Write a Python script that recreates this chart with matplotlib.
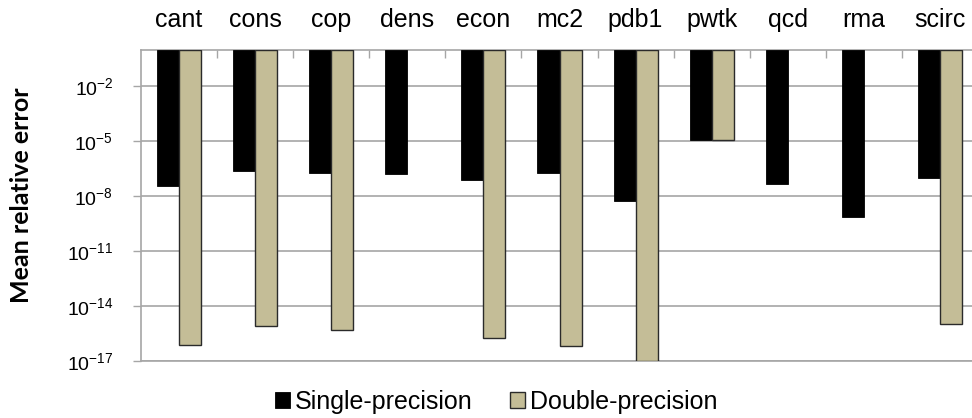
import numpy as np
import matplotlib
matplotlib.use("Agg")
import matplotlib.pyplot as plt
from matplotlib.patches import Patch
from matplotlib.ticker import FixedLocator, FixedFormatter
import matplotlib.transforms as mtrans

plt.rcParams['font.family'] = ['Liberation Sans', 'DejaVu Sans']
plt.rcParams['mathtext.fontset'] = 'custom'
plt.rcParams['mathtext.rm'] = 'Liberation Sans'
plt.rcParams['mathtext.it'] = 'Liberation Sans:italic'
plt.rcParams['mathtext.bf'] = 'Liberation Sans:bold'

categories = ["cant", "cons", "cop", "dens", "econ", "mc2", "pdb1", "pwtk", "qcd", "rma", "scirc"]
# log10 of mean relative error (NaN = no bar)
single_log = [-7.42, -6.62, -6.74, -6.78, -7.09, -6.71, -8.25, -4.91, -7.34, -9.11, -7.02]
double_log = [-16.15, -15.11, -15.33, np.nan, -15.75, -16.20, -17.0, -4.94, np.nan, np.nan, -14.98]
ytick_exps = [-17, -14, -11, -8, -5, -2]
series_names = ["Single-precision", "Double-precision"]

single = np.power(10.0, np.array(single_log))
double = np.power(10.0, np.array(double_log))
TOP = 1.0

W, H = 972, 418
fig = plt.figure(figsize=(W / 100, H / 100), dpi=100)
ax_left, ax_right, ax_top, ax_bot = 141, 978, 49.7, 361
ax = fig.add_axes([ax_left / W, 1 - ax_bot / H, (ax_right - ax_left) / W, (ax_bot - ax_top) / H])

x = np.arange(len(categories))
bw = 0.29
c_single = "#000000"
c_double = "#C4BD97"
ax.bar(x - bw / 2, TOP - single, bottom=single, width=bw, color=c_single,
       edgecolor="#000000", linewidth=0.6, zorder=3)
ax.bar(x + bw / 2, TOP - double, bottom=double, width=bw, color=c_double,
       edgecolor="#2a2a2a", linewidth=1.0, zorder=3)

ax.set_yscale("log")
ax.set_ylim(1e-17, TOP)
ax.set_xlim(-0.5, len(categories) - 0.5)

ax.yaxis.set_major_locator(FixedLocator([10.0 ** e for e in ytick_exps]))
ax.yaxis.set_major_formatter(FixedFormatter([r"$\mathregular{10^{%d}}$" % e for e in ytick_exps]))
ax.yaxis.set_minor_locator(FixedLocator([]))
ax.tick_params(axis="y", which="major", length=6, width=1, color="#A6A6A6",
               labelsize=14, pad=14, direction="out")
ax.grid(axis="y", color="#A6A6A6", linewidth=1.2, zorder=0)

ax.xaxis.tick_top()
ax.set_xticks(np.arange(len(categories) - 1) + 0.5)
ax.set_xticklabels([])
ax.tick_params(axis="x", which="major", length=6, width=1, color="#A6A6A6", direction="in")

for s in ["left", "top", "bottom"]:
    ax.spines[s].set_color("#A6A6A6")
    ax.spines[s].set_linewidth(1.2)
ax.spines["right"].set_visible(False)

trans = mtrans.blended_transform_factory(ax.transData, fig.transFigure)
for i, c in enumerate(categories):
    ax.text(i, 1 - 27.3 / H, c, transform=trans, ha="center", va="baseline", fontsize=18,
            clip_on=False)

fig.text(22 / W, 1 - 195 / H, "Mean relative error", rotation=90, ha="center", va="center",
         fontsize=18, fontweight="bold", family=["Lato", "DejaVu Sans"])

handles = [Patch(facecolor=c_single, edgecolor="#000000", linewidth=0.6),
           Patch(facecolor=c_double, edgecolor="#2a2a2a", linewidth=1.0)]
fig.legend(handles, series_names, loc="center", bbox_to_anchor=(496 / W, 1 - 402 / H),
           ncol=2, frameon=False, fontsize=18, handlelength=0.6, handleheight=0.6,
           handletextpad=0.2, columnspacing=1.5, borderpad=0, borderaxespad=0)

fig.savefig("out.png", dpi=100)
